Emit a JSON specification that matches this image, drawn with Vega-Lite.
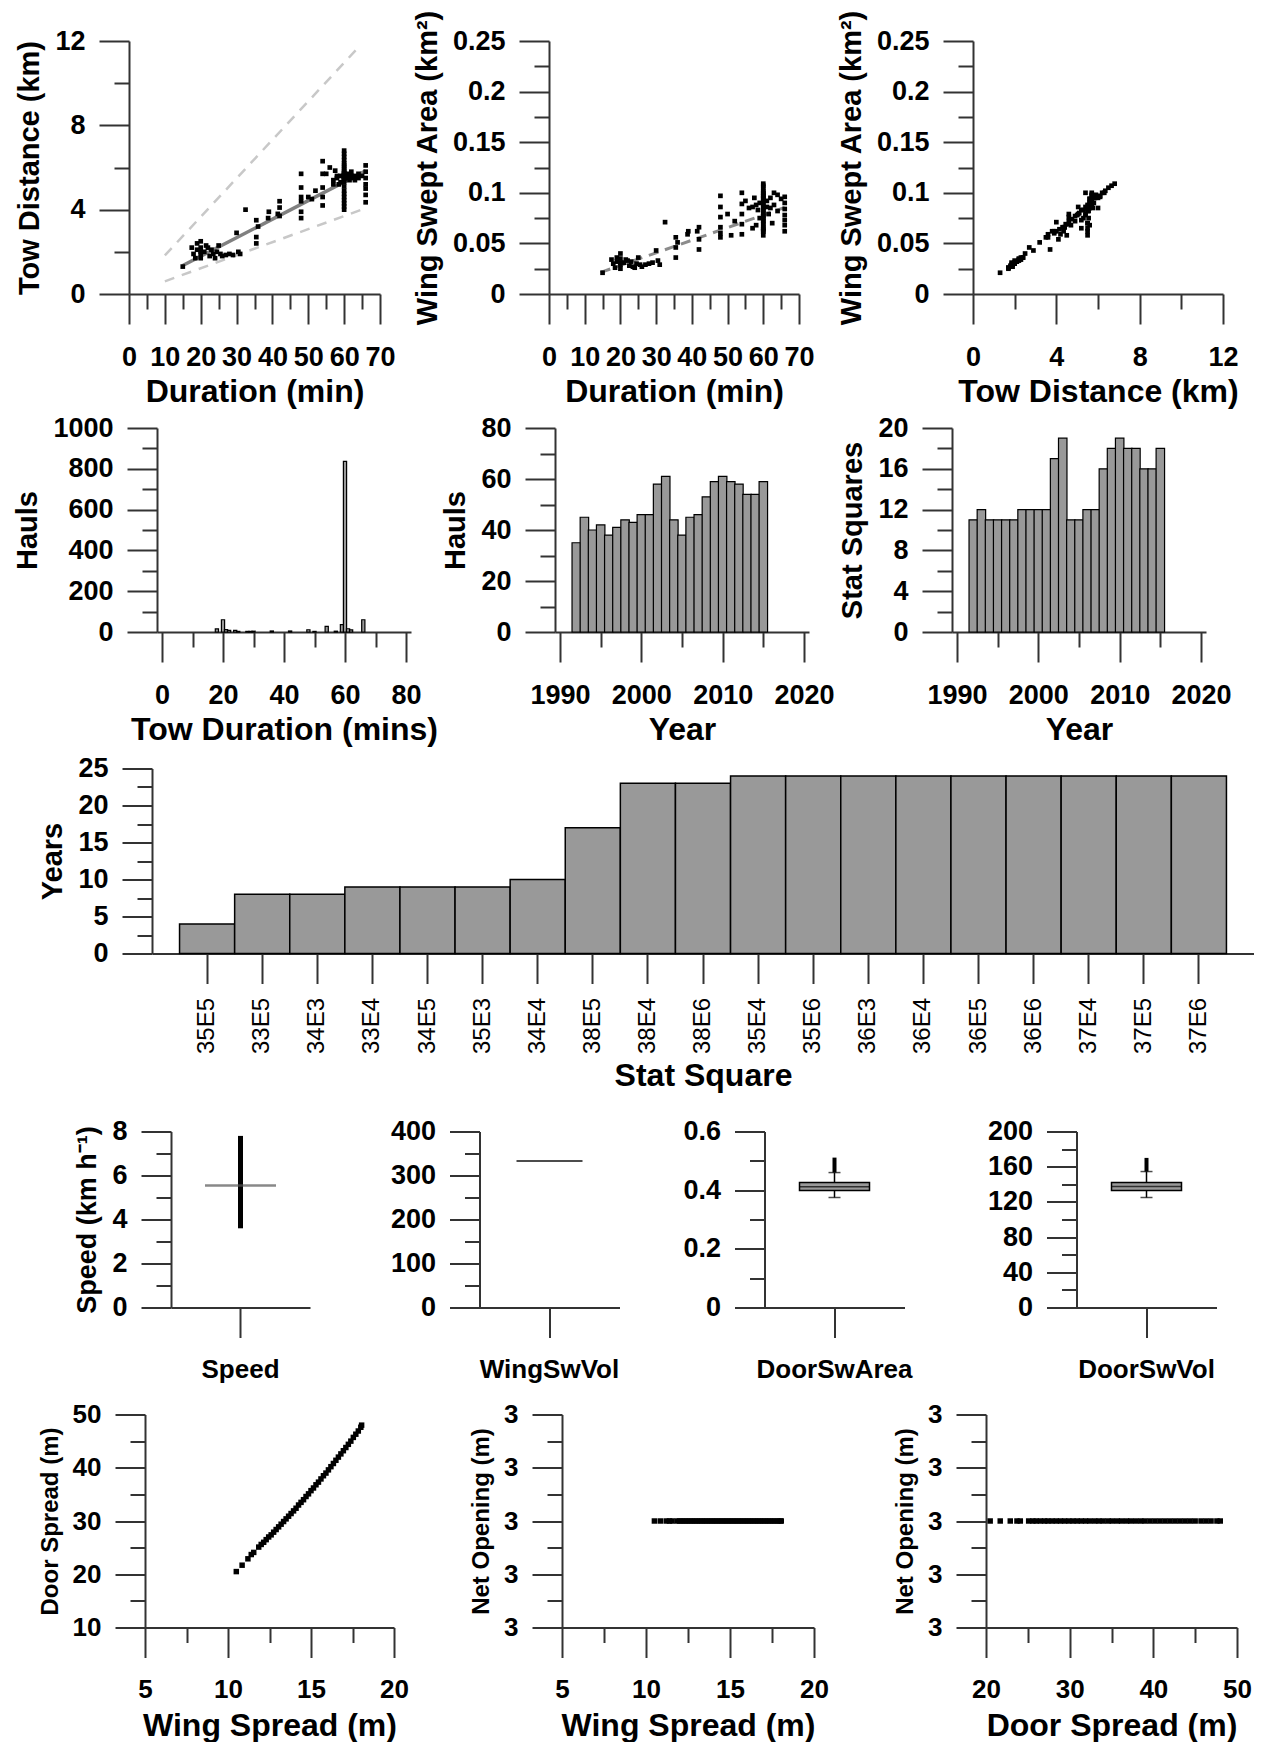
{
"$schema": "https://vega.github.io/schema/vega-lite/v6.json",
"background": "white",
"padding": {"left": 0, "top": 9, "right": 0, "bottom": 0},
"config": {
 "view": {"stroke": null},
 "font": "Liberation Sans",
 "axis": {"domainColor": "#333333", "domainWidth": 2, "tickColor": "#333333", "tickWidth": 2, "labelColor": "#000000", "labelFont": "Liberation Sans", "labelFontWeight": "bold", "labelFontSize": 27, "labelOverlap": false, "labelFlush": false, "titleColor": "#000000", "titleFont": "Liberation Sans", "titleFontWeight": "bold", "titleFontSize": 29, "grid": false, "tickSize": 30},
 "axisX": {"labelPadding": 20, "titlePadding": 6, "titleFontSize": 32},
 "axisY": {"labelPadding": 14, "titlePadding": 10}
},
"datasets": {
 "hauls": [
  {"dur":15,"dist":1.3,"area":0.021},{"dur":17.5,"dist":2.2,"area":0.034},{"dur":18,"dist":1.9,"area":0.030},{"dur":18.5,"dist":1.7,"area":0.026},{"dur":19,"dist":2.1,"area":0.032},{"dur":19,"dist":2.4,"area":0.036},
  {"dur":20,"dist":2.5,"area":0.040},{"dur":20,"dist":2.2,"area":0.035},{"dur":20,"dist":1.9,"area":0.029},{"dur":20,"dist":1.7,"area":0.025},{"dur":20,"dist":2.0,"area":0.031},
  {"dur":21,"dist":2.0,"area":0.031},{"dur":21.5,"dist":2.3,"area":0.034},{"dur":22,"dist":2.2,"area":0.033},{"dur":22.5,"dist":1.8,"area":0.028},{"dur":23,"dist":2.1,"area":0.032},{"dur":23.5,"dist":1.9,"area":0.027},
  {"dur":24,"dist":1.7,"area":0.026},{"dur":24.5,"dist":2.0,"area":0.030},{"dur":25,"dist":2.3,"area":0.036},{"dur":25.5,"dist":1.9,"area":0.029},{"dur":26,"dist":1.8,"area":0.027},
  {"dur":27,"dist":1.85,"area":0.029},{"dur":28,"dist":1.9,"area":0.030},{"dur":29,"dist":1.85,"area":0.031},{"dur":30,"dist":2.9,"area":0.043},{"dur":30.5,"dist":2.0,"area":0.033},{"dur":31,"dist":1.9,"area":0.029},
  {"dur":32.5,"dist":4.0,"area":0.071},{"dur":35.5,"dist":3.5,"area":0.056},{"dur":35.5,"dist":2.7,"area":0.046},{"dur":35.5,"dist":2.4,"area":0.036},{"dur":36,"dist":3.2,"area":0.051},
  {"dur":38.8,"dist":3.6,"area":0.059},{"dur":39,"dist":3.9,"area":0.062},{"dur":41.5,"dist":3.8,"area":0.062},{"dur":42,"dist":4.4,"area":0.066},{"dur":42,"dist":3.7,"area":0.044},{"dur":42,"dist":4.1,"area":0.054},
  {"dur":48,"dist":5.7,"area":0.097},{"dur":48,"dist":5.05,"area":0.086},{"dur":48,"dist":4.6,"area":0.076},{"dur":48,"dist":4.4,"area":0.066},{"dur":48,"dist":3.9,"area":0.060},{"dur":48,"dist":3.6,"area":0.056},
  {"dur":50,"dist":4.6,"area":0.079},{"dur":51,"dist":4.5,"area":0.058},{"dur":52,"dist":4.9,"area":0.072},
  {"dur":54,"dist":6.3,"area":0.100},{"dur":54,"dist":5.7,"area":0.089},{"dur":54,"dist":5.05,"area":0.079},{"dur":54,"dist":4.6,"area":0.069},{"dur":54,"dist":4.2,"area":0.059},
  {"dur":55,"dist":5.7,"area":0.092},{"dur":56,"dist":6.0,"area":0.085},{"dur":57,"dist":5.4,"area":0.086},{"dur":57,"dist":5.2,"area":0.065},{"dur":57.5,"dist":5.85,"area":0.095},{"dur":58,"dist":5.5,"area":0.088},{"dur":58,"dist":5.6,"area":0.068},{"dur":58.5,"dist":5.2,"area":0.083},{"dur":59,"dist":5.6,"area":0.090},{"dur":59,"dist":5.3,"area":0.075},
  {"dur":60,"dist":4.0,"area":0.062},{"dur":60,"dist":4.15,"area":0.064},{"dur":60,"dist":4.3,"area":0.066},{"dur":60,"dist":4.45,"area":0.069},{"dur":60,"dist":4.6,"area":0.072},{"dur":60,"dist":4.75,"area":0.074},{"dur":60,"dist":4.9,"area":0.077},{"dur":60,"dist":5.1,"area":0.080},{"dur":60,"dist":5.3,"area":0.083},{"dur":60,"dist":5.4,"area":0.078},
  {"dur":60,"dist":5.5,"area":0.058},{"dur":60,"dist":5.5,"area":0.062},{"dur":60,"dist":5.5,"area":0.065},{"dur":60,"dist":5.5,"area":0.070},{"dur":60,"dist":5.55,"area":0.075},{"dur":60,"dist":5.55,"area":0.082},{"dur":60,"dist":5.6,"area":0.086},{"dur":60,"dist":5.6,"area":0.090},{"dur":60,"dist":5.6,"area":0.094},{"dur":60,"dist":5.65,"area":0.088},
  {"dur":60,"dist":5.7,"area":0.092},{"dur":60,"dist":5.7,"area":0.100},{"dur":60,"dist":5.75,"area":0.085},{"dur":60,"dist":5.8,"area":0.096},{"dur":60,"dist":5.9,"area":0.098},{"dur":60,"dist":6.0,"area":0.095},{"dur":60,"dist":6.1,"area":0.097},{"dur":60,"dist":6.2,"area":0.100},{"dur":60,"dist":6.35,"area":0.102},{"dur":60,"dist":6.5,"area":0.105},{"dur":60,"dist":6.65,"area":0.107},{"dur":60,"dist":6.8,"area":0.109},
  {"dur":61,"dist":5.5,"area":0.086},{"dur":61,"dist":5.7,"area":0.092},{"dur":61.5,"dist":5.4,"area":0.079},{"dur":62,"dist":5.6,"area":0.085},{"dur":62,"dist":5.8,"area":0.095},{"dur":62.5,"dist":5.5,"area":0.070},{"dur":63,"dist":5.6,"area":0.088},{"dur":63,"dist":5.4,"area":0.100},{"dur":64,"dist":5.7,"area":0.098},{"dur":64,"dist":5.5,"area":0.082},{"dur":65,"dist":5.6,"area":0.094},
  {"dur":66,"dist":6.1,"area":0.096},{"dur":66,"dist":5.5,"area":0.084},{"dur":66,"dist":5.2,"area":0.073},{"dur":66,"dist":4.7,"area":0.068},{"dur":66,"dist":4.35,"area":0.062},{"dur":66,"dist":5.8,"area":0.090},{"dur":66,"dist":5.0,"area":0.078}
 ],
 "alines": [{"line":"u","dur":10,"dist":1.83},{"line":"u","dur":64,"dist":11.7},{"line":"l","dur":10,"dist":0.6},{"line":"l","dur":66,"dist":4.07}],
 "afit": [{"dur":15,"dist":1.35},{"dur":66,"dist":5.84}],
 "bfit": [{"dur":14.5,"area":0.0214},{"dur":66,"area":0.0855}],
 "durhist": [{"min":18,"n":15},{"min":20,"n":60},{"min":21,"n":12},{"min":22,"n":8},{"min":24,"n":8},{"min":25,"n":3},{"min":28,"n":3},{"min":29,"n":3},{"min":30,"n":4},{"min":36,"n":5},{"min":42,"n":5},{"min":48,"n":11},{"min":50,"n":3},{"min":54,"n":28},{"min":57,"n":4},{"min":59,"n":36},{"min":60,"n":836},{"min":61,"n":16},{"min":62,"n":10},{"min":66,"n":60}],
 "yrs": [{"year":1992,"hauls":35,"sq":11},{"year":1993,"hauls":45,"sq":12},{"year":1994,"hauls":40,"sq":11},{"year":1995,"hauls":42,"sq":11},{"year":1996,"hauls":38,"sq":11},{"year":1997,"hauls":41,"sq":11},{"year":1998,"hauls":44,"sq":12},{"year":1999,"hauls":43,"sq":12},{"year":2000,"hauls":46,"sq":12},{"year":2001,"hauls":46,"sq":12},{"year":2002,"hauls":58,"sq":17},{"year":2003,"hauls":61,"sq":19},{"year":2004,"hauls":44,"sq":11},{"year":2005,"hauls":38,"sq":11},{"year":2006,"hauls":45,"sq":12},{"year":2007,"hauls":46,"sq":12},{"year":2008,"hauls":53,"sq":16},{"year":2009,"hauls":59,"sq":18},{"year":2010,"hauls":61,"sq":19},{"year":2011,"hauls":59,"sq":18},{"year":2012,"hauls":58,"sq":18},{"year":2013,"hauls":54,"sq":16},{"year":2014,"hauls":54,"sq":16},{"year":2015,"hauls":59,"sq":18}],
 "sqyears": [{"sq":"35E5","years":4},{"sq":"33E5","years":8},{"sq":"34E3","years":8},{"sq":"33E4","years":9},{"sq":"34E5","years":9},{"sq":"35E3","years":9},{"sq":"34E4","years":10},{"sq":"38E5","years":17},{"sq":"38E4","years":23},{"sq":"38E6","years":23},{"sq":"35E4","years":24},{"sq":"35E6","years":24},{"sq":"36E3","years":24},{"sq":"36E4","years":24},{"sq":"36E5","years":24},{"sq":"36E6","years":24},{"sq":"37E4","years":24},{"sq":"37E5","years":24},{"sq":"37E6","years":24}],
 "speed": [{"v":"Speed","part":"range","val":3.6,"val2":7.8},{"v":"Speed","part":"mid","val":5.55}],
 "wsv": [{"v":"WingSwVol","part":"mid","val":333}],
 "dsa": [{"v":"DoorSwArea","part":"wl","val":0.375,"val2":0.399},{"v":"DoorSwArea","part":"wh","val":0.426,"val2":0.46},{"v":"DoorSwArea","part":"out","val":0.46,"val2":0.511},{"v":"DoorSwArea","part":"box","val":0.399,"val2":0.426},{"v":"DoorSwArea","part":"med","val":0.412},{"v":"DoorSwArea","part":"cap","val":0.375},{"v":"DoorSwArea","part":"cap","val":0.46}],
 "dsv": [{"v":"DoorSwVol","part":"wl","val":125,"val2":133},{"v":"DoorSwVol","part":"wh","val":142,"val2":154.5},{"v":"DoorSwVol","part":"out","val":154.5,"val2":170},{"v":"DoorSwVol","part":"box","val":133,"val2":142},{"v":"DoorSwVol","part":"med","val":137.5},{"v":"DoorSwVol","part":"cap","val":125},{"v":"DoorSwVol","part":"cap","val":154.5}],
 "spread": [
  {"wing":10.5,"door":20.5,"net":3},{"wing":10.85,"door":21.7,"net":3},{"wing":11.2,"door":22.9,"net":3},{"wing":11.4,"door":23.7,"net":3},{"wing":11.55,"door":24.1,"net":3},{"wing":11.85,"door":25.1,"net":3},
  {"wing":12.0,"door":25.6,"net":3},{"wing":12.15,"door":26.0,"net":3},{"wing":12.3,"door":26.5,"net":3},{"wing":12.45,"door":27.0,"net":3},{"wing":12.6,"door":27.4,"net":3},{"wing":12.75,"door":27.9,"net":3},
  {"wing":12.9,"door":28.4,"net":3},{"wing":13.05,"door":28.9,"net":3},{"wing":13.2,"door":29.4,"net":3},{"wing":13.35,"door":29.9,"net":3},{"wing":13.5,"door":30.4,"net":3},{"wing":13.65,"door":30.9,"net":3},
  {"wing":13.8,"door":31.4,"net":3},{"wing":13.95,"door":31.9,"net":3},{"wing":14.1,"door":32.4,"net":3},{"wing":14.25,"door":33.0,"net":3},{"wing":14.4,"door":33.5,"net":3},{"wing":14.55,"door":34.0,"net":3},
  {"wing":14.7,"door":34.6,"net":3},{"wing":14.85,"door":35.1,"net":3},{"wing":15.0,"door":35.7,"net":3},{"wing":15.15,"door":36.2,"net":3},{"wing":15.3,"door":36.8,"net":3},{"wing":15.45,"door":37.3,"net":3},
  {"wing":15.6,"door":37.9,"net":3},{"wing":15.75,"door":38.5,"net":3},{"wing":15.9,"door":39.0,"net":3},{"wing":16.05,"door":39.6,"net":3},{"wing":16.2,"door":40.2,"net":3},{"wing":16.35,"door":40.8,"net":3},
  {"wing":16.5,"door":41.4,"net":3},{"wing":16.65,"door":42.0,"net":3},{"wing":16.8,"door":42.6,"net":3},{"wing":16.95,"door":43.2,"net":3},{"wing":17.1,"door":43.8,"net":3},{"wing":17.25,"door":44.4,"net":3},
  {"wing":17.4,"door":45.0,"net":3},{"wing":17.55,"door":45.7,"net":3},{"wing":17.7,"door":46.3,"net":3},{"wing":17.85,"door":46.9,"net":3},{"wing":18.0,"door":47.6,"net":3},{"wing":18.05,"door":48.0,"net":3}
 ]
},
"spacing": 7,
"vconcat": [
 {"spacing": 0, "hconcat": [
  {"width": 15, "height": 1, "data": {"values": []}, "mark": "point", "encoding": {}},
  {"spacing": 17, "hconcat": [
   {"width": 251, "height": 253,
    "encoding": {
     "x": {"field": "dur", "type": "quantitative", "scale": {"domain": [0, 70], "nice": false, "zero": false}, "axis": {"title": "Duration (min)", "values": [0,5,10,15,20,25,30,35,40,45,50,55,60,65,70], "labelExpr": "datum.value % 10 === 0 ? format(datum.value, 'd') : ''", "tickSize": {"condition": {"test": "datum.value % 10 === 0", "value": 30}, "value": 15}}},
     "y": {"field": "dist", "type": "quantitative", "scale": {"domain": [0, 12], "nice": false}, "axis": {"title": "Tow Distance (km)", "values": [0,2,4,6,8,10,12], "labelExpr": "datum.value % 4 === 0 ? format(datum.value, 'd') : ''", "tickSize": {"condition": {"test": "datum.value % 4 === 0", "value": 30}, "value": 15}}}
    },
    "layer": [
     {"data": {"name": "alines"}, "mark": {"type": "line", "color": "#c8c8c8", "strokeWidth": 2.5, "strokeDash": [10, 8]}, "encoding": {"detail": {"field": "line", "type": "nominal"}}},
     {"data": {"name": "afit"}, "mark": {"type": "line", "color": "#808080", "strokeWidth": 3.5}, "encoding": {}},
     {"data": {"name": "hauls"}, "mark": {"type": "square", "size": 22, "color": "#000000", "opacity": 1}, "encoding": {}}
    ]
   },
   {"spacing": 22, "hconcat": [
    {"width": 250, "height": 253,
     "encoding": {
      "x": {"field": "dur", "type": "quantitative", "scale": {"domain": [0, 70], "nice": false, "zero": false}, "axis": {"title": "Duration (min)", "values": [0,5,10,15,20,25,30,35,40,45,50,55,60,65,70], "labelExpr": "datum.value % 10 === 0 ? format(datum.value, 'd') : ''", "tickSize": {"condition": {"test": "datum.value % 10 === 0", "value": 30}, "value": 15}}},
      "y": {"field": "area", "type": "quantitative", "scale": {"domain": [0, 0.25], "nice": false}, "axis": {"title": "Wing Swept Area (km²)", "values": [0,0.025,0.05,0.075,0.1,0.125,0.15,0.175,0.2,0.225,0.25], "labelExpr": "abs(datum.value*20 - round(datum.value*20)) < 0.001 ? format(datum.value, '~g') : ''", "tickSize": {"condition": {"test": "abs(datum.value*20 - round(datum.value*20)) < 0.001", "value": 30}, "value": 15}}}
     },
     "layer": [
      {"data": {"name": "bfit"}, "mark": {"type": "line", "color": "#8c8c8c", "strokeWidth": 3, "strokeDash": [10, 7]}, "encoding": {}},
      {"data": {"name": "hauls"}, "mark": {"type": "square", "size": 22, "color": "#000000", "opacity": 1}, "encoding": {}}
     ]
    },
    {"width": 250, "height": 253, "data": {"name": "hauls"}, "mark": {"type": "square", "size": 22, "color": "#000000", "opacity": 1},
     "encoding": {
      "x": {"field": "dist", "type": "quantitative", "scale": {"domain": [0, 12], "nice": false}, "axis": {"title": "Tow Distance (km)", "values": [0,2,4,6,8,10,12], "labelExpr": "datum.value % 4 === 0 ? format(datum.value, 'd') : ''", "tickSize": {"condition": {"test": "datum.value % 4 === 0", "value": 30}, "value": 15}}},
      "y": {"field": "area", "type": "quantitative", "scale": {"domain": [0, 0.25], "nice": false}, "axis": {"title": "Wing Swept Area (km²)", "values": [0,0.025,0.05,0.075,0.1,0.125,0.15,0.175,0.2,0.225,0.25], "labelExpr": "abs(datum.value*20 - round(datum.value*20)) < 0.001 ? format(datum.value, '~g') : ''", "tickSize": {"condition": {"test": "abs(datum.value*20 - round(datum.value*20)) < 0.001", "value": 30}, "value": 15}}}
     }
    }
   ]}
  ]}
 ]},
 {"spacing": 9.5, "vconcat": [
  {"spacing": 0, "hconcat": [
   {"width": 13, "height": 1, "data": {"values": []}, "mark": "point", "encoding": {}},
   {"spacing": 3, "hconcat": [
    {"width": 254, "height": 204, "data": {"name": "durhist"}, "mark": {"type": "bar", "orient": "vertical", "width": 3.2, "fill": "#999999", "stroke": "#000000", "strokeWidth": 1.2},
     "encoding": {
      "x": {"field": "min", "type": "quantitative", "scale": {"domain": [0, 80], "nice": false, "zero": false}, "axis": {"title": "Tow Duration (mins)", "values": [0,10,20,30,40,50,60,70,80], "labelExpr": "datum.value % 20 === 0 ? format(datum.value, 'd') : ''", "tickSize": {"condition": {"test": "datum.value % 20 === 0", "value": 30}, "value": 15}}},
      "y": {"field": "n", "type": "quantitative", "scale": {"domain": [0, 1000], "nice": false}, "axis": {"title": "Hauls", "values": [0,100,200,300,400,500,600,700,800,900,1000], "labelExpr": "datum.value % 200 === 0 ? format(datum.value, 'd') : ''", "tickSize": {"condition": {"test": "datum.value % 200 === 0", "value": 30}, "value": 15}}}
     }
    },
    {"spacing": 3, "hconcat": [
     {"width": 254, "height": 204, "data": {"name": "yrs"}, "mark": {"type": "bar", "orient": "vertical", "width": 8.47, "fill": "#999999", "stroke": "#000000", "strokeWidth": 1.2},
      "encoding": {
       "x": {"field": "year", "type": "quantitative", "scale": {"domain": [1990, 2020], "nice": false, "zero": false}, "axis": {"title": "Year", "values": [1990,1995,2000,2005,2010,2015,2020], "labelExpr": "datum.value % 10 === 0 ? format(datum.value, 'd') : ''", "tickSize": {"condition": {"test": "datum.value % 10 === 0", "value": 30}, "value": 15}}},
       "y": {"field": "hauls", "type": "quantitative", "scale": {"domain": [0, 80], "nice": false}, "axis": {"title": "Hauls", "values": [0,10,20,30,40,50,60,70,80], "labelExpr": "datum.value % 20 === 0 ? format(datum.value, 'd') : ''", "tickSize": {"condition": {"test": "datum.value % 20 === 0", "value": 30}, "value": 15}}}
      }
     },
     {"width": 254, "height": 204, "data": {"name": "yrs"}, "mark": {"type": "bar", "orient": "vertical", "width": 8.47, "fill": "#999999", "stroke": "#000000", "strokeWidth": 1.2},
      "encoding": {
       "x": {"field": "year", "type": "quantitative", "scale": {"domain": [1990, 2020], "nice": false, "zero": false}, "axis": {"title": "Year", "values": [1990,1995,2000,2005,2010,2015,2020], "labelExpr": "datum.value % 10 === 0 ? format(datum.value, 'd') : ''", "tickSize": {"condition": {"test": "datum.value % 10 === 0", "value": 30}, "value": 15}}},
       "y": {"field": "sq", "type": "quantitative", "scale": {"domain": [0, 20], "nice": false}, "axis": {"title": "Stat Squares", "values": [0,2,4,6,8,10,12,14,16,18,20], "labelExpr": "datum.value % 4 === 0 ? format(datum.value, 'd') : ''", "tickSize": {"condition": {"test": "datum.value % 4 === 0", "value": 30}, "value": 15}}}
      }
     }
    ]}
   ]}
  ]},
  {"spacing": 25, "vconcat": [
   {"spacing": 0, "hconcat": [
    {"width": 38, "height": 1, "data": {"values": []}, "mark": "point", "encoding": {}},
    {"width": 1102, "height": 185, "data": {"name": "sqyears"}, "mark": {"type": "bar", "fill": "#999999", "stroke": "#000000", "strokeWidth": 1.5},
     "encoding": {
      "x": {"field": "sq", "type": "nominal", "sort": null, "scale": {"type": "band", "paddingInner": 0, "paddingOuter": 0.5}, "axis": {"title": "Stat Square", "labelAngle": 270, "labelFontWeight": "normal", "labelFontSize": 24, "labelPadding": 14, "titlePadding": 7, "tickSize": 30}},
      "y": {"field": "years", "type": "quantitative", "scale": {"domain": [0, 25], "nice": false}, "axis": {"title": "Years", "values": [0,2.5,5,7.5,10,12.5,15,17.5,20,22.5,25], "labelExpr": "datum.value % 5 === 0 ? format(datum.value, 'd') : ''", "tickSize": {"condition": {"test": "datum.value % 5 === 0", "value": 30}, "value": 15}}}
     }
    }
   ]},
   {"spacing": 19, "vconcat": [
    {"spacing": 0, "hconcat": [
     {"width": 73, "height": 1, "data": {"values": []}, "mark": "point", "encoding": {}},
     {"spacing": 79.5, "hconcat": [
      {"width": 139, "height": 176, "data": {"name": "speed"},
       "encoding": {
        "x": {"field": "v", "type": "nominal", "scale": {"type": "band", "paddingInner": 0, "paddingOuter": 0}, "axis": {"title": null, "labelAngle": 0, "labelFontSize": 26, "labelPadding": 19}},
        "y": {"field": "val", "type": "quantitative", "scale": {"domain": [0, 8], "nice": false}, "axis": {"title": "Speed (km h⁻¹)", "titleFontSize": 27, "values": [0,1,2,3,4,5,6,7,8], "labelExpr": "datum.value % 2 === 0 ? format(datum.value, 'd') : ''", "tickSize": {"condition": {"test": "datum.value % 2 === 0", "value": 30}, "value": 15}}}
       },
       "layer": [
        {"transform": [{"filter": "datum.part === 'range'"}], "mark": {"type": "rule", "color": "#000000", "strokeWidth": 5}, "encoding": {"y2": {"field": "val2"}}},
        {"transform": [{"filter": "datum.part === 'mid'"}], "mark": {"type": "tick", "color": "#555555", "size": 71, "thickness": 2.5}, "encoding": {}}
       ]
      },
      {"spacing": 63, "hconcat": [
       {"width": 140, "height": 176, "data": {"name": "wsv"},
        "encoding": {
         "x": {"field": "v", "type": "nominal", "scale": {"type": "band", "paddingInner": 0, "paddingOuter": 0}, "axis": {"title": null, "labelAngle": 0, "labelFontSize": 26, "labelPadding": 19}},
         "y": {"field": "val", "type": "quantitative", "scale": {"domain": [0, 400], "nice": false}, "axis": {"title": null, "values": [0,50,100,150,200,250,300,350,400], "labelExpr": "datum.value % 100 === 0 ? format(datum.value, 'd') : ''", "tickSize": {"condition": {"test": "datum.value % 100 === 0", "value": 30}, "value": 15}}}
        },
        "layer": [
         {"mark": {"type": "tick", "color": "#000000", "size": 66, "thickness": 2}, "encoding": {}}
        ]
       },
       {"spacing": 74, "hconcat": [
        {"width": 140, "height": 176, "data": {"name": "dsa"},
         "encoding": {
          "x": {"field": "v", "type": "nominal", "scale": {"type": "band", "paddingInner": 0, "paddingOuter": 0}, "axis": {"title": null, "labelAngle": 0, "labelFontSize": 26, "labelPadding": 19}},
          "y": {"field": "val", "type": "quantitative", "scale": {"domain": [0, 0.6], "nice": false}, "axis": {"title": null, "values": [0,0.1,0.2,0.3,0.4,0.5,0.6], "labelExpr": "round(datum.value*10) % 2 === 0 ? format(datum.value, '~g') : ''", "tickSize": {"condition": {"test": "round(datum.value*10) % 2 === 0", "value": 30}, "value": 15}}}
         },
         "layer": [
          {"transform": [{"filter": "datum.part === 'wl' || datum.part === 'wh'"}], "mark": {"type": "rule", "color": "#000000", "strokeWidth": 1.5}, "encoding": {"y2": {"field": "val2"}}},
          {"transform": [{"filter": "datum.part === 'out'"}], "mark": {"type": "rule", "color": "#000000", "strokeWidth": 4}, "encoding": {"y2": {"field": "val2"}}},
          {"transform": [{"filter": "datum.part === 'box'"}], "mark": {"type": "bar", "fill": "#999999", "stroke": "#000000", "strokeWidth": 1.5, "width": {"band": 0.5}}, "encoding": {"y2": {"field": "val2"}}},
          {"transform": [{"filter": "datum.part === 'med'"}], "mark": {"type": "tick", "color": "#000000", "size": 70, "thickness": 1.5}, "encoding": {}},
          {"transform": [{"filter": "datum.part === 'cap'"}], "mark": {"type": "tick", "color": "#000000", "size": 12, "thickness": 1.5}, "encoding": {}}
         ]
        },
        {"width": 140, "height": 176, "data": {"name": "dsv"},
         "encoding": {
          "x": {"field": "v", "type": "nominal", "scale": {"type": "band", "paddingInner": 0, "paddingOuter": 0}, "axis": {"title": null, "labelAngle": 0, "labelFontSize": 26, "labelPadding": 19}},
          "y": {"field": "val", "type": "quantitative", "scale": {"domain": [0, 200], "nice": false}, "axis": {"title": null, "values": [0,20,40,60,80,100,120,140,160,180,200], "labelExpr": "datum.value % 40 === 0 ? format(datum.value, 'd') : ''", "tickSize": {"condition": {"test": "datum.value % 40 === 0", "value": 30}, "value": 15}}}
         },
         "layer": [
          {"transform": [{"filter": "datum.part === 'wl' || datum.part === 'wh'"}], "mark": {"type": "rule", "color": "#000000", "strokeWidth": 1.5}, "encoding": {"y2": {"field": "val2"}}},
          {"transform": [{"filter": "datum.part === 'out'"}], "mark": {"type": "rule", "color": "#000000", "strokeWidth": 4}, "encoding": {"y2": {"field": "val2"}}},
          {"transform": [{"filter": "datum.part === 'box'"}], "mark": {"type": "bar", "fill": "#999999", "stroke": "#000000", "strokeWidth": 1.5, "width": {"band": 0.5}}, "encoding": {"y2": {"field": "val2"}}},
          {"transform": [{"filter": "datum.part === 'med'"}], "mark": {"type": "tick", "color": "#000000", "size": 70, "thickness": 1.5}, "encoding": {}},
          {"transform": [{"filter": "datum.part === 'cap'"}], "mark": {"type": "tick", "color": "#000000", "size": 12, "thickness": 1.5}, "encoding": {}}
         ]
        }
       ]}
      ]}
     ]}
    ]},
    {"spacing": 0, "hconcat": [
     {"width": 38, "height": 1, "data": {"values": []}, "mark": "point", "encoding": {}},
     {"spacing": 60, "hconcat": [
      {"width": 249, "height": 213, "data": {"name": "spread"}, "mark": {"type": "square", "size": 30, "color": "#000000", "opacity": 1},
       "encoding": {
        "x": {"field": "wing", "type": "quantitative", "scale": {"domain": [5, 20], "nice": false, "zero": false}, "axis": {"title": "Wing Spread (m)", "labelFontSize": 26, "labelPadding": 19, "titlePadding": 8, "values": [5,7.5,10,12.5,15,17.5,20], "labelExpr": "datum.value % 5 === 0 ? format(datum.value, 'd') : ''", "tickSize": {"condition": {"test": "datum.value % 5 === 0", "value": 30}, "value": 15}}},
        "y": {"field": "door", "type": "quantitative", "scale": {"domain": [10, 50], "nice": false, "zero": false}, "axis": {"title": "Door Spread (m)", "titleFontSize": 24, "labelFontSize": 26, "values": [10,15,20,25,30,35,40,45,50], "labelExpr": "datum.value % 10 === 0 ? format(datum.value, 'd') : ''", "tickSize": {"condition": {"test": "datum.value % 10 === 0", "value": 30}, "value": 15}}}
       }
      },
      {"spacing": 64, "hconcat": [
       {"width": 252, "height": 213, "data": {"name": "spread"}, "mark": {"type": "square", "size": 30, "color": "#000000", "opacity": 1},
        "encoding": {
         "x": {"field": "wing", "type": "quantitative", "scale": {"domain": [5, 20], "nice": false, "zero": false}, "axis": {"title": "Wing Spread (m)", "labelFontSize": 26, "labelPadding": 19, "titlePadding": 8, "values": [5,7.5,10,12.5,15,17.5,20], "labelExpr": "datum.value % 5 === 0 ? format(datum.value, 'd') : ''", "tickSize": {"condition": {"test": "datum.value % 5 === 0", "value": 30}, "value": 15}}},
         "y": {"field": "net", "type": "quantitative", "scale": {"domain": [2.96, 3.04], "nice": false, "zero": false}, "axis": {"title": "Net Opening (m)", "titleFontSize": 24, "labelFontSize": 26, "values": [2.96,2.97,2.98,2.99,3,3.01,3.02,3.03,3.04], "labelExpr": "round(datum.value*100) % 2 === 0 ? format(datum.value, '.0f') : ''", "tickSize": {"condition": {"test": "round(datum.value*100) % 2 === 0", "value": 30}, "value": 15}}}
        }
       },
       {"width": 251, "height": 213, "data": {"name": "spread"}, "mark": {"type": "square", "size": 30, "color": "#000000", "opacity": 1},
        "encoding": {
         "x": {"field": "door", "type": "quantitative", "scale": {"domain": [20, 50], "nice": false, "zero": false}, "axis": {"title": "Door Spread (m)", "labelFontSize": 26, "labelPadding": 19, "titlePadding": 8, "values": [20,25,30,35,40,45,50], "labelExpr": "datum.value % 10 === 0 ? format(datum.value, 'd') : ''", "tickSize": {"condition": {"test": "datum.value % 10 === 0", "value": 30}, "value": 15}}},
         "y": {"field": "net", "type": "quantitative", "scale": {"domain": [2.96, 3.04], "nice": false, "zero": false}, "axis": {"title": "Net Opening (m)", "titleFontSize": 24, "labelFontSize": 26, "values": [2.96,2.97,2.98,2.99,3,3.01,3.02,3.03,3.04], "labelExpr": "round(datum.value*100) % 2 === 0 ? format(datum.value, '.0f') : ''", "tickSize": {"condition": {"test": "round(datum.value*100) % 2 === 0", "value": 30}, "value": 15}}}
        }
       }
      ]}
     ]}
    ]}
   ]}
  ]}
 ]}
]
}
